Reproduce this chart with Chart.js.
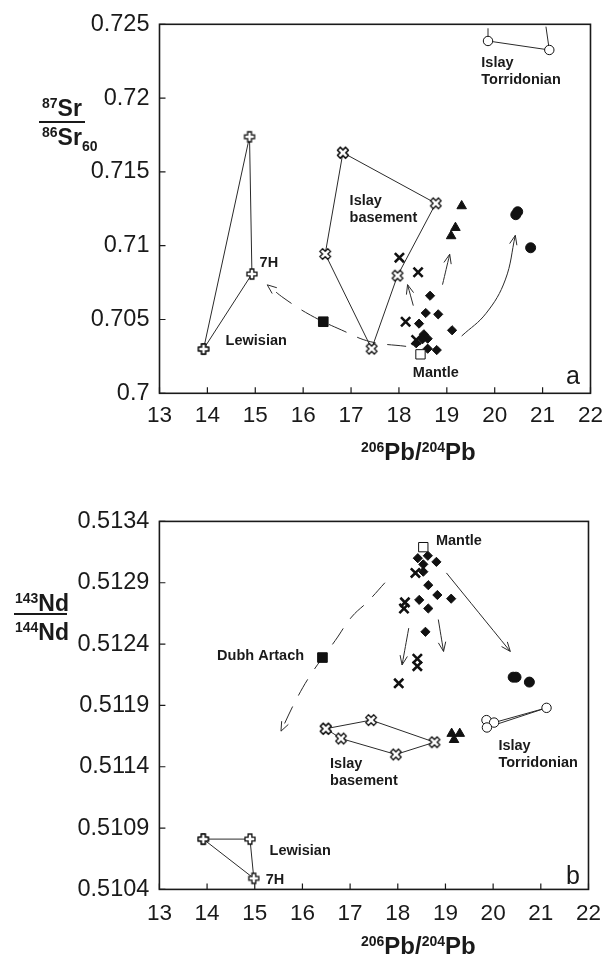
<!DOCTYPE html>
<html>
<head>
<meta charset="utf-8">
<title>Sr-Nd-Pb isotopes</title>
<script src="https://cdn.jsdelivr.net/npm/chart.js@4.4.1/dist/chart.umd.min.js"></script>
<style>
  html, body { margin: 0; padding: 0; background: #fff; }
  #page { position: relative; width: 612px; height: 956px; overflow: hidden;
          font-family: "Liberation Sans", Arial, Helvetica, sans-serif; color: #1a1a1a; }
  canvas { position: absolute; left: 0; }
  #chartA { top: 0; }
  #chartB { top: 480px; }
  .t { position: absolute; font-weight: bold; font-size: 23px; line-height: 1; white-space: nowrap; transform: translateY(-50%); }
  .x { font-size: 24px; }
  .sp { font-size: 14px; position: relative; top: -8px; }
  .sb { font-size: 14px; position: relative; top: 6px; }
  .bar { position: absolute; height: 2px; background: #1a1a1a; }
</style>
</head>
<body>
<div id="page">
  <canvas id="chartA" width="612" height="470"></canvas>
  <canvas id="chartB" width="612" height="476"></canvas>

  <div class="t" style="left:42px;top:108px"><span class="sp">87</span>Sr</div>
  <div class="bar" style="left:39px;top:121px;width:46px"></div>
  <div class="t" style="left:42px;top:137px"><span class="sp">86</span>Sr<span class="sb">60</span></div>
  <div class="t x" style="left:361px;top:452px"><span class="sp">206</span>Pb/<span class="sp">204</span>Pb</div>

  <div class="t" style="left:15px;top:603px"><span class="sp">143</span>Nd</div>
  <div class="bar" style="left:14px;top:613px;width:53px"></div>
  <div class="t" style="left:15px;top:632px"><span class="sp">144</span>Nd</div>
  <div class="t x" style="left:361px;top:946px"><span class="sp">206</span>Pb/<span class="sp">204</span>Pb</div>
</div>

<script>
const FONT = '"Liberation Sans", Arial, Helvetica, sans-serif';
const INK = '#1a1a1a';

// shared x axis
const pbTicks = [13, 14, 15, 16, 17, 18, 19, 20, 21, 22];

// ---- panel a: 87Sr/86Sr(60) ----
const srTicks = [0.7, 0.705, 0.71, 0.715, 0.72, 0.725];
const srTickLabels = ['0.7', '0.705', '0.71', '0.715', '0.72', '0.725'];

const lewisianPbA = [13.92, 14.88, 14.93, 13.92];
const lewisianSr = [0.7030, 0.71738, 0.70808, 0.7030];
const basementPbA = [16.83, 18.77, 17.97, 17.43, 16.46, 16.83];
const basementSr = [0.7163, 0.71287, 0.70797, 0.70302, 0.70944, 0.7163];
const crossPbA = [18.01, 18.40, 18.14, 18.36];
const crossSr = [0.70919, 0.7082, 0.70485, 0.70361];
const diamondPbA = [18.65, 18.56, 18.82, 18.42, 19.11, 18.52, 18.60, 18.36, 18.60, 18.79, 18.49];
const diamondSr = [0.70661, 0.70544, 0.70535, 0.70472, 0.70427, 0.7040, 0.7037, 0.70339, 0.70302, 0.70293, 0.70366];
const trianglePbA = [19.31, 19.18, 19.09];
const triangleSr = [0.71269, 0.71122, 0.71066];
const circlePbA = [20.44, 20.48, 20.75];
const circleSr = [0.7121, 0.7123, 0.70986];
const torridonianPbA = [19.86, 21.14];
const torridonianSr = [0.72387, 0.72326];
const torridonianLeadPbA = [[19.86, 19.86], [21.14, 21.07]];
const torridonianLeadSr = [[0.72387, 0.72473], [0.72326, 0.72484]];
const mantlePbA = [18.45];
const mantleSr = [0.70264];
const dubhPbA = [16.42];
const dubhSr = [0.70485];

const dashPbA = [18.15, 17.4, 16.8, 16.15, 15.6, 15.25];
const dashSr = [0.70318, 0.7035, 0.70429, 0.7053, 0.70644, 0.70735];
const arrowPbA = [[18.30, 18.18], [18.91, 19.06], [19.31, 19.82, 20.22, 20.43]];
const arrowSr = [[0.70594, 0.70736], [0.70736, 0.70942], [0.70388, 0.70542, 0.70768, 0.7107]];

// ---- panel b: 143Nd/144Nd ----
const ndTicks = [0.5104, 0.5109, 0.5114, 0.5119, 0.5124, 0.5129, 0.5134];
const ndTickLabels = ['0.5104', '0.5109', '0.5114', '0.5119', '0.5124', '0.5129', '0.5134'];

const lewisianPbB = [13.92, 14.90, 14.98, 13.92];
const lewisianNd = [0.51081, 0.51081, 0.51049, 0.51081];
const basementPbB = [16.49, 17.44, 18.77, 17.96, 16.81, 16.49];
const basementNd = [0.51171, 0.51178, 0.51160, 0.51150, 0.51163, 0.51171];
const crossPbB = [18.37, 18.15, 18.13, 18.41, 18.41, 18.02];
const crossNd = [0.51298, 0.51274, 0.51269, 0.51228, 0.51222, 0.51208];
const diamondPbB = [18.42, 18.63, 18.81, 18.535, 18.535, 18.64, 18.83, 19.12, 18.45, 18.64, 18.58];
const diamondNd = [0.51310, 0.51312, 0.51307, 0.51305, 0.51299, 0.51288, 0.51280, 0.51277, 0.51276, 0.51269, 0.51250];
const trianglePbB = [19.13, 19.30, 19.18];
const triangleNd = [0.51167, 0.51167, 0.51162];
const circlePbB = [20.42, 20.48, 20.76];
const circleNd = [0.51213, 0.51213, 0.51209];
const torridonianPbB = [19.86, 20.02, 19.87, 21.12];
const torridonianNd = [0.51178, 0.51176, 0.51172, 0.51188];
const torridonianLeadPbB = [[20.02, 21.12], [19.87, 21.12]];
const torridonianLeadNd = [[0.51176, 0.51188], [0.51172, 0.51188]];
const mantlePbB = [18.535];
const mantleNd = [0.51319];
const dubhPbB = [16.42];
const dubhNd = [0.51229];

const dashPbB = [17.73, 17.38, 17.03, 16.69, 16.19, 15.86, 15.55];
const dashNd = [0.5129, 0.51275, 0.51262, 0.51243, 0.51216, 0.51194, 0.51169];
const arrowPbB = [[18.23, 18.09], [18.85, 18.96], [19.02, 20.36]];
const arrowNd = [[0.51253, 0.51223], [0.5126, 0.51234], [0.51298, 0.51234]];

// text annotations, placed in data units
const labelsA = [
    { text: 'Islay', x: 19.72, y: 0.72238 },
    { text: 'Torridonian', x: 19.72, y: 0.72123 },
    { text: 'Islay', x: 16.97, y: 0.71303 },
    { text: 'basement', x: 16.97, y: 0.71186 },
    { text: '7H', x: 15.09, y: 0.70881 },
    { text: 'Lewisian', x: 14.38, y: 0.70356 },
    { text: 'Mantle', x: 18.29, y: 0.70136 },
    { text: 'a', x: 21.49, y: 0.70112, big: true },
];
const labelsB = [
    { text: 'Mantle', x: 18.80, y: 0.51324 },
    { text: 'Dubh Artach', x: 14.21, y: 0.51230 },
    { text: 'Islay', x: 16.58, y: 0.51142 },
    { text: 'basement', x: 16.58, y: 0.51128 },
    { text: 'Islay', x: 20.11, y: 0.51157 },
    { text: 'Torridonian', x: 20.11, y: 0.51143 },
    { text: 'Lewisian', x: 15.31, y: 0.51071 },
    { text: '7H', x: 15.23, y: 0.51048 },
    { text: 'b', x: 21.53, y: 0.5105, big: true },
];

// outlined cross markers drawn once into small canvases
function mark(size, draw) {
    const c = document.createElement('canvas');
    c.width = size;
    c.height = size;
    const g = c.getContext('2d');
    g.translate(size / 2, size / 2);
    draw(g);
    return c;
}
function greekCross(g, r, w) {
    g.beginPath();
    g.moveTo(-w, -r); g.lineTo(w, -r); g.lineTo(w, -w); g.lineTo(r, -w);
    g.lineTo(r, w); g.lineTo(w, w); g.lineTo(w, r); g.lineTo(-w, r);
    g.lineTo(-w, w); g.lineTo(-r, w); g.lineTo(-r, -w); g.lineTo(-w, -w);
    g.closePath();
    g.fillStyle = '#fff';
    g.fill();
    g.lineWidth = 1.3;
    g.strokeStyle = '#111';
    g.stroke();
}
const openPlus = mark(14, g => greekCross(g, 5, 1.9));
const openX = mark(16, g => { g.rotate(Math.PI / 4); greekCross(g, 5.6, 1.9); });

function set(xs, ys, o) {
    return Object.assign({
        data: xs.map((x, i) => ({ x: x, y: ys[i] })),
        showLine: false,
        borderColor: '#2a2a2a',
        borderWidth: 1,
        pointBorderColor: '#111',
        pointBackgroundColor: '#111',
        pointBorderWidth: 1,
        pointRadius: 4,
    }, o);
}
function lineSets(xsList, ysList, o) {
    return xsList.map((xs, i) => set(xs, ysList[i], Object.assign({ showLine: true, pointRadius: 0 }, o)));
}

function panelSets(p) {
    return [
        set(p.mantle[0], p.mantle[1], { pointStyle: 'rect', pointRadius: 6.6, pointBackgroundColor: '#fff' }),
        set(p.dubh[0], p.dubh[1], { pointStyle: 'rect', pointRadius: 6.8 }),
        set(p.diamond[0], p.diamond[1], { pointStyle: 'rectRot', pointRadius: 4.6 }),
        set(p.cross[0], p.cross[1], { pointStyle: 'crossRot', pointRadius: 6.5, pointBorderWidth: 2.6 }),
        set(p.triangle[0], p.triangle[1], { pointStyle: 'triangle', pointRadius: 5.5 }),
        set(p.circle[0], p.circle[1], { pointStyle: 'circle', pointRadius: 5 }),
        set(p.torridonian[0], p.torridonian[1], { pointStyle: 'circle', pointRadius: 4.7, pointBackgroundColor: '#fff', showLine: p.torLine }),
        set(p.lewisian[0], p.lewisian[1], { pointStyle: openPlus, showLine: true }),
        set(p.basement[0], p.basement[1], { pointStyle: openX, showLine: true }),
        ...lineSets(p.lead[0], p.lead[1], {}),
        ...lineSets([p.dash[0]], [p.dash[1]], { tension: 0.4, borderDash: [19, 12], arrow: true }),
        ...lineSets(p.arrows[0], p.arrows[1], { tension: 0.4, arrow: true }),
    ];
}

const overlay = {
    id: 'overlay',
    afterDatasetsDraw(chart, args, opts) {
        const ctx = chart.ctx;
        const a = chart.chartArea;
        const xs = chart.scales.x;
        const ys = chart.scales.y;
        ctx.save();
        ctx.strokeStyle = '#2a2a2a';
        ctx.lineWidth = 1;
        ctx.setLineDash([]);

        // open arrowheads at the end of arrow lines
        chart.data.datasets.forEach((ds, i) => {
            if (!ds.arrow) return;
            const pts = chart.getDatasetMeta(i).data;
            const p = pts[pts.length - 1];
            const q = pts[pts.length - 2];
            const ang = Math.atan2(p.y - q.y, p.x - q.x);
            ctx.beginPath();
            [-0.38, 0.38].forEach(d => {
                ctx.moveTo(p.x, p.y);
                ctx.lineTo(p.x - 10 * Math.cos(ang + d), p.y - 10 * Math.sin(ang + d));
            });
            ctx.stroke();
        });

        // frame and inward ticks
        ctx.strokeStyle = INK;
        ctx.lineWidth = 1.6;
        ctx.strokeRect(a.left, a.top, a.right - a.left, a.bottom - a.top);
        ctx.lineWidth = 1.2;
        ctx.beginPath();
        xs.ticks.forEach(t => {
            const px = xs.getPixelForValue(t.value);
            ctx.moveTo(px, a.bottom);
            ctx.lineTo(px, a.bottom - 6);
        });
        ys.ticks.forEach(t => {
            const py = ys.getPixelForValue(t.value);
            ctx.moveTo(a.left, py);
            ctx.lineTo(a.left + 6, py);
        });
        ctx.stroke();

        // annotations
        ctx.fillStyle = INK;
        ctx.textBaseline = 'middle';
        ctx.textAlign = 'left';
        opts.labels.forEach(l => {
            ctx.font = l.big ? '25px ' + FONT : 'bold 14.5px ' + FONT;
            ctx.fillText(l.text, xs.getPixelForValue(l.x), ys.getPixelForValue(l.y));
        });
        ctx.restore();
    },
};

function makeChart(id, cfg) {
    return new Chart(document.getElementById(id), {
        type: 'scatter',
        data: { datasets: cfg.datasets },
        options: {
            responsive: false,
            animation: false,
            events: [],
            layout: { padding: { top: cfg.top, right: 15, left: 0, bottom: 0 } },
            plugins: {
                legend: { display: false },
                tooltip: { enabled: false },
                overlay: { labels: cfg.labels },
            },
            scales: {
                x: {
                    type: 'linear',
                    min: 13,
                    max: 22,
                    afterBuildTicks: s => { s.ticks = pbTicks.map(v => ({ value: v })); },
                    afterFit: s => { s.height = cfg.xHeight; },
                    grid: { display: false, drawTicks: false },
                    border: { display: false },
                    ticks: { font: { family: FONT, size: 22.5 }, color: INK, padding: cfg.xPad, maxRotation: 0, autoSkip: false, callback: v => String(v) },
                },
                y: {
                    type: 'linear',
                    min: cfg.yTicks[0],
                    max: cfg.yTicks[cfg.yTicks.length - 1],
                    afterBuildTicks: s => { s.ticks = cfg.yTicks.map(v => ({ value: v })); },
                    afterFit: s => { s.width = cfg.left; },
                    grid: { display: false, drawTicks: false },
                    border: { display: false },
                    ticks: { font: { family: FONT, size: 23.5 }, color: INK, padding: 10, autoSkip: false, callback: (v, i) => cfg.yLabels[i] },
                },
            },
        },
        plugins: [overlay],
    });
}

makeChart('chartA', {
    top: 24.3, left: 159.5, xHeight: 76.7, xPad: 9,
    yTicks: srTicks, yLabels: srTickLabels, labels: labelsA,
    datasets: panelSets({
        mantle: [mantlePbA, mantleSr], dubh: [dubhPbA, dubhSr],
        diamond: [diamondPbA, diamondSr], cross: [crossPbA, crossSr],
        triangle: [trianglePbA, triangleSr], circle: [circlePbA, circleSr],
        torridonian: [torridonianPbA, torridonianSr], torLine: true,
        lewisian: [lewisianPbA, lewisianSr], basement: [basementPbA, basementSr],
        lead: [torridonianLeadPbA, torridonianLeadSr],
        dash: [dashPbA, dashSr], arrows: [arrowPbA, arrowSr],
    }),
});

makeChart('chartB', {
    top: 41.4, left: 159.4, xHeight: 66.6, xPad: 11,
    yTicks: ndTicks, yLabels: ndTickLabels, labels: labelsB,
    datasets: panelSets({
        mantle: [mantlePbB, mantleNd], dubh: [dubhPbB, dubhNd],
        diamond: [diamondPbB, diamondNd], cross: [crossPbB, crossNd],
        triangle: [trianglePbB, triangleNd], circle: [circlePbB, circleNd],
        torridonian: [torridonianPbB, torridonianNd], torLine: false,
        lewisian: [lewisianPbB, lewisianNd], basement: [basementPbB, basementNd],
        lead: [torridonianLeadPbB, torridonianLeadNd],
        dash: [dashPbB, dashNd], arrows: [arrowPbB, arrowNd],
    }),
});
</script>
</body>
</html>
